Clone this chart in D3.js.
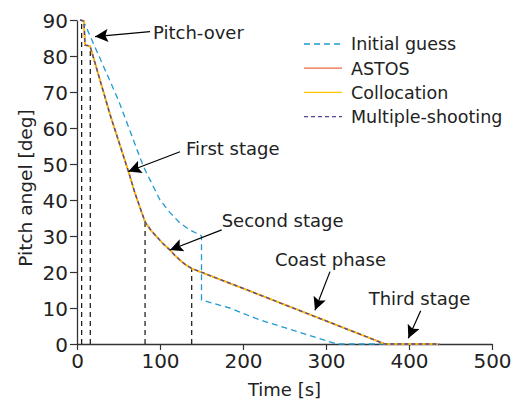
<!DOCTYPE html>
<html>
<head>
<meta charset="utf-8">
<script src="https://cdn.jsdelivr.net/npm/d3@7"></script>
<style>
  body { margin: 0; background: #fff; }
  text { font-family: "DejaVu Sans", sans-serif; fill: #222; }
</style>
</head>
<body>
<div id="chart"></div>
<script>
// values
var xTicks = [0, 100, 200, 300, 400, 500];
var yTicks = [0, 10, 20, 30, 40, 50, 60, 70, 80, 90];

var guessT = [7.2, 13.6, 49.8, 80, 94, 100, 112, 124, 136, 148, 150, 150, 184, 220, 313, 437];
var guessP = [90, 86.7, 67.8, 49.3, 42.8, 40, 36.5, 33.6, 31.7, 30.3, 30, 12.2, 10, 6.7, 0, 0];

// ASTOS, collocation and multiple-shooting lie on top of each other
var trajT = [3.6, 8.4, 9.6, 15.7, 40, 62, 70, 82, 89, 96, 104, 112, 118, 124, 131, 138, 184, 371, 435];
var trajP = [90, 89.7, 83, 82.8, 63.6, 47.9, 41.8, 33.9, 31.6, 29.8, 27.8, 26.1, 24.6, 23.3, 22.0, 21, 16.9, 0, 0];

// stage separation markers
var stageT = [5.6, 16, 82, 138.2];
var stageP = [90, 82.7, 33.9, 21.1];

var annLabels = ["Pitch-over", "First stage", "Second stage", "Coast phase", "Third stage"];
var annTip = [[21.7, 85.4], [61.8, 47.9], [112, 26.1], [286.7, 9.4], [399.2, 1.6]];
var annTail = [[88, 86.75], [124.1, 53.4], [174.3, 31.7], [304.8, 20.1], [414.1, 9.25]];

var legendNames = ["Initial guess", "ASTOS", "Collocation", "Multiple-shooting"];

var w = 513, h = 406;
var margin = {left: 77, right: 21, top: 20, bottom: 62};

var svg = d3.select("#chart").append("svg").attr("width", w).attr("height", h);

var x = d3.scaleLinear().domain([0, 500]).range([margin.left, w - margin.right]);
var y = d3.scaleLinear().domain([0, 90]).range([h - margin.bottom, margin.top]);

var axisColor = "#333";

// axes
var gx = svg.append("g")
    .attr("transform", "translate(0," + y(0) + ")")
    .call(d3.axisBottom(x).tickValues(xTicks).tickSize(6).tickSizeOuter(0).tickPadding(4));
var gy = svg.append("g")
    .attr("transform", "translate(" + x(0) + ",0)")
    .call(d3.axisLeft(y).tickValues(yTicks).tickSize(7).tickSizeOuter(0).tickPadding(2));
[gx, gy].forEach(function(g) {
    g.select(".domain").attr("stroke", axisColor).attr("stroke-width", 1.3);
    g.selectAll(".tick line").attr("stroke", axisColor).attr("stroke-width", 1.2);
    g.selectAll("text")
        .attr("font-family", "DejaVu Sans")
        .attr("font-size", "20px")
        .attr("fill", "#222");
});
gy.selectAll("text").attr("dy", "0.36em");

svg.append("text")
    .attr("x", (x(0) + x(500)) / 2)
    .attr("y", 396)
    .attr("text-anchor", "middle")
    .attr("font-size", "18px")
    .text("Time [s]");

svg.append("text")
    .attr("transform", "translate(32," + ((y(0) + y(90)) / 2 + 6) + ") rotate(-90)")
    .attr("text-anchor", "middle")
    .attr("font-size", "18.5px")
    .text("Pitch angel [deg]");

// stage markers
stageT.forEach(function(t, i) {
    svg.append("line")
        .attr("x1", x(t)).attr("x2", x(t))
        .attr("y1", y(0)).attr("y2", y(stageP[i]))
        .attr("stroke", "#111")
        .attr("stroke-width", 1.2)
        .attr("stroke-dasharray", "5,4");
});

var line = d3.line()
    .x(function(d) { return x(d[0]); })
    .y(function(d) { return y(d[1]); });

var guess = guessT.map(function(t, i) { return [t, guessP[i]]; });
var traj = trajT.map(function(t, i) { return [t, trajP[i]]; });

var styles = [
    {color: "#1f9ad2", width: 1.3, dash: "6,4"},
    {color: "#ee6a3a", width: 1.6, dash: null},
    {color: "#ffc400", width: 1.6, dash: null},
    {color: "#4a46a0", width: 1.3, dash: "4,3"}
];
var seriesData = [guess, traj, traj, traj];

seriesData.forEach(function(d, i) {
    svg.append("path")
        .datum(d)
        .attr("d", line)
        .attr("fill", "none")
        .attr("stroke", styles[i].color)
        .attr("stroke-width", styles[i].width)
        .attr("stroke-linejoin", "round")
        .attr("stroke-dasharray", styles[i].dash);
});

// legend
var legend = svg.append("g").attr("transform", "translate(304,44)");
legendNames.forEach(function(name, i) {
    var g = legend.append("g").attr("transform", "translate(0," + (i * 24.2) + ")");
    g.append("line")
        .attr("x1", 0).attr("x2", 38)
        .attr("stroke", styles[i].color)
        .attr("stroke-width", 1.3)
        .attr("stroke-dasharray", styles[i].dash);
    g.append("text")
        .attr("x", 47)
        .attr("dy", "0.36em")
        .attr("font-size", "17.5px")
        .text(name);
});

// annotation arrows
var defs = svg.append("defs");
defs.append("marker")
    .attr("id", "head")
    .attr("viewBox", "0 0 10 10")
    .attr("refX", 10).attr("refY", 5)
    .attr("markerWidth", 17).attr("markerHeight", 13)
    .attr("markerUnits", "userSpaceOnUse")
    .attr("orient", "auto")
    .append("path")
    .attr("d", "M0,0 L10,5 L0,10 L2,5 Z")
    .attr("fill", "#000");

var textOffset = [[3, 7], [6, 3], [0, -3], [-55, -6], [-52, -6]];
annLabels.forEach(function(label, i) {
    svg.append("line")
        .attr("x1", x(annTail[i][0])).attr("y1", y(annTail[i][1]))
        .attr("x2", x(annTip[i][0])).attr("y2", y(annTip[i][1]))
        .attr("stroke", "#000")
        .attr("stroke-width", 1.2)
        .attr("marker-end", "url(#head)");
    svg.append("text")
        .attr("x", x(annTail[i][0]) + textOffset[i][0])
        .attr("y", y(annTail[i][1]) + textOffset[i][1])
        .attr("font-size", "18px")
        .text(label);
});
</script>
</body>
</html>
